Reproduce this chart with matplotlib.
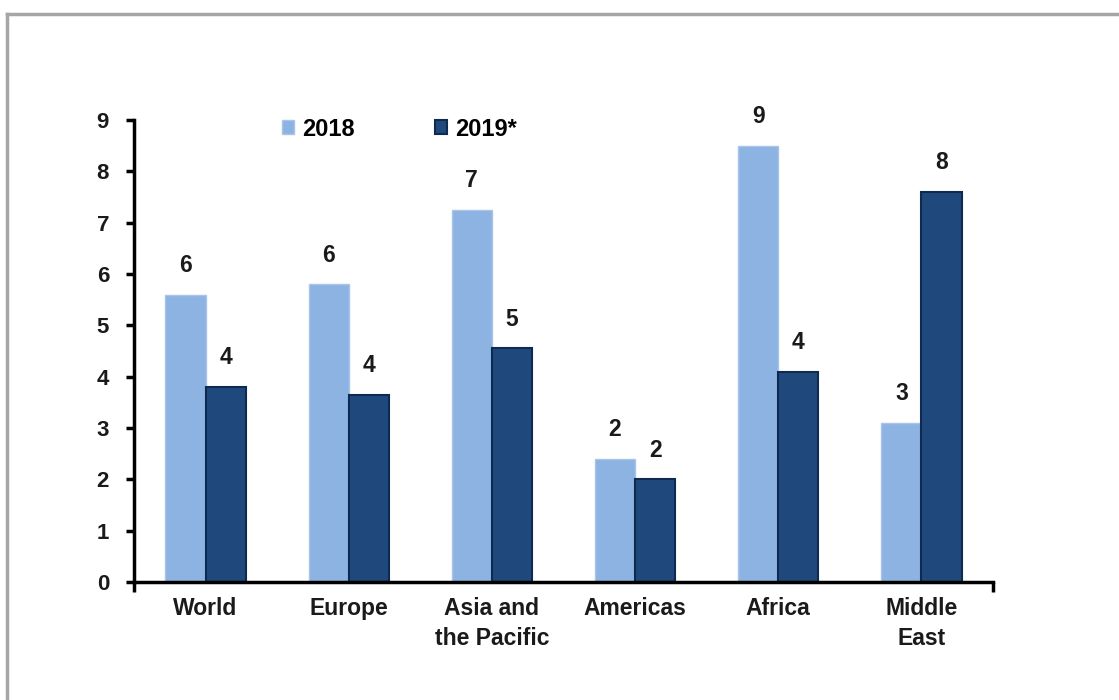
import matplotlib.pyplot as plt
import numpy as np
from matplotlib.lines import Line2D

regions = ['World', 'Europe', 'Asia and\nthe Pacific', 'Americas', 'Africa', 'Middle\nEast']
vals_2018 = [5.6, 5.8, 7.25, 2.4, 8.5, 3.1]
vals_2019 = [3.8, 3.65, 4.55, 2.0, 4.1, 7.6]
lbl_2018 = ['6', '6', '7', '2', '9', '3']
lbl_2019 = ['4', '4', '5', '2', '4', '8']
series_names = ['2018', '2019*']

light = '#8db3e2'
dark = '#1f497d'
txt = '#1a1a1a'

plt.rcParams['font.family'] = ['Liberation Sans', 'DejaVu Sans']
plt.rcParams['font.weight'] = 'bold'

fig = plt.figure(figsize=(11.19, 7), dpi=100)
ax = fig.add_axes([134/1119, 1-582/700, (993-134)/1119, (582-120)/700])

x = np.arange(len(regions))
w = 0.28
ax.bar(x - w/2, vals_2018, w, color=light, edgecolor='#a9c6ea', linewidth=1, label=series_names[0])
ax.bar(x + w/2, vals_2019, w, color=dark, edgecolor='#0f2a50', linewidth=1.5, label=series_names[1])

for xi, v, t in zip(x - w/2, vals_2018, lbl_2018):
    ax.annotate(t, (xi, v), xytext=(0, 21), textcoords='offset points',
                ha='center', va='center', fontsize=16.5, color=txt)
for xi, v, t in zip(x + w/2, vals_2019, lbl_2019):
    ax.annotate(t, (xi, v), xytext=(0, 21), textcoords='offset points',
                ha='center', va='center', fontsize=16.5, color=txt)

ax.set_xlim(-0.5, 5.5)
ax.set_ylim(0, 9)
ax.set_yticks(range(10))
ax.set_xticks(x)
ax.set_xticklabels(regions, fontsize=16.5, color=txt, linespacing=1.4)
ax.tick_params(axis='x', length=0, pad=11)
ax.set_xticks([-0.5, 5.5], minor=True)
ax.tick_params(axis='x', which='minor', length=7, width=2.5, direction='out')
ax.tick_params(axis='y', length=6, width=2.5, labelsize=16, pad=12, labelcolor=txt)
for s in ['top', 'right']:
    ax.spines[s].set_visible(False)
for s in ['left', 'bottom']:
    ax.spines[s].set_linewidth(2.5)

ax.legend(loc='center left', bbox_to_anchor=(282/1119, 1-129/700), bbox_transform=fig.transFigure,
          ncol=2, frameon=False, fontsize=17, borderpad=0, borderaxespad=0,
          handlelength=0.5, handleheight=0.5, handletextpad=0.35, columnspacing=3.4)

# grey frame round the picture
fig.add_artist(Line2D([7/1119, 7/1119], [0, 1-14/700], color='#a6a6a6', lw=2.5, transform=fig.transFigure))
fig.add_artist(Line2D([7/1119, 1], [1-14/700, 1-14/700], color='#a6a6a6', lw=2.5, transform=fig.transFigure))

fig.savefig('out.png', dpi=100)
